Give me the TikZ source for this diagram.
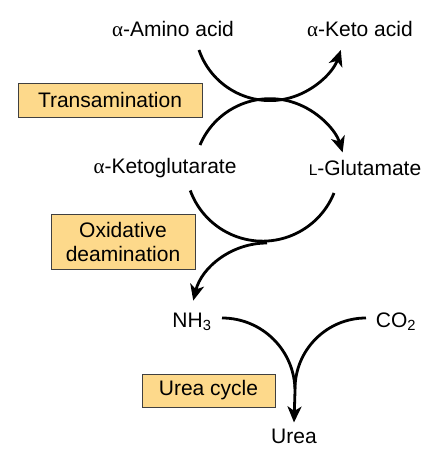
\documentclass[tikz,border=0pt]{standalone}
\usepackage{fontspec}
\setmainfont{Liberation Sans}
\newfontfamily\greekfont{Liberation Serif}
\usetikzlibrary{arrows.meta,positioning}
\definecolor{boxfill}{HTML}{FDD98B}
\tikzset{
    stepname/.style={font=\fontsize{21}{24}\selectfont,inner sep=0pt},
    stepbox/.style={draw=black!75,line width=0.9pt,fill=boxfill,font=\fontsize{21}{24}\selectfont,inner sep=0pt,align=center},
    flow/.style={line width=2.8pt,line cap=butt},
    flowarrow/.style={flow,-{Stealth[length=16pt,width=14pt,inset=4.5pt]}}
}
\newcommand{\lsc}{{\fontsize{15.5}{15.5}\selectfont L}}
\newcommand{\alp}{{\greekfont α}}

\begin{document}
\begin{tikzpicture}[x=1pt,y=1pt]
    \useasboundingbox (0,0) rectangle (442,466);

    % compounds
    \path
    (173,437) node[stepname] (amino) {\alp-Amino acid}
    (360,437) node[stepname] (keto) {\alp-Keto acid}
    (165,298) node[stepname] (akg) {\alp-Ketoglutarate}
    (365,298) node[stepname] (glu) {\lsc-Glutamate}
    (192,144) node[stepname] (nh3) {NH\textsubscript{3}}
    (396,144) node[stepname] (co2) {CO\textsubscript{2}}
    (294,30)  node[stepname] (urea) {Urea};

    % enzymes / processes
    \node[stepbox,minimum width=184pt,minimum height=34pt] (trans) at (110,366) {Transamination};
    \node[stepbox,minimum width=144pt,minimum height=55pt] (oxid) at (123,224.5) {Oxidative\\deamination};
    \node[stepbox,minimum width=133pt,minimum height=33pt] (ucyc) at (208.5,75.5) {Urea cycle};

    % transamination
    \coordinate (a1) at (199,416);
    \coordinate (g1) at (200,321);
    \draw[flowarrow] (a1) arc[start angle=199,end angle=341,radius=75];
    \draw[flowarrow] (g1) arc[start angle=157,end angle=17,radius=76];

    % oxidative deamination
    \coordinate (d1) at (334,273);
    \coordinate (d0) at (267,223);
    \draw[flow] (d1) arc[start angle=338,end angle=200,radius=77];
    \draw[flowarrow] (d0) arc[start angle=90,end angle=166,radius=76];

    % urea cycle
    \coordinate (u1) at (222,148);
    \coordinate (u2) at (366,148);
    \draw[flow] (u1) arc[start angle=90,end angle=0,radius=73] coordinate (um);
    \draw[flow] (u2) arc[start angle=90,end angle=180,radius=71];
    \draw[flowarrow] (um) -- ([yshift=6pt]urea.north);
\end{tikzpicture}
\end{document}
